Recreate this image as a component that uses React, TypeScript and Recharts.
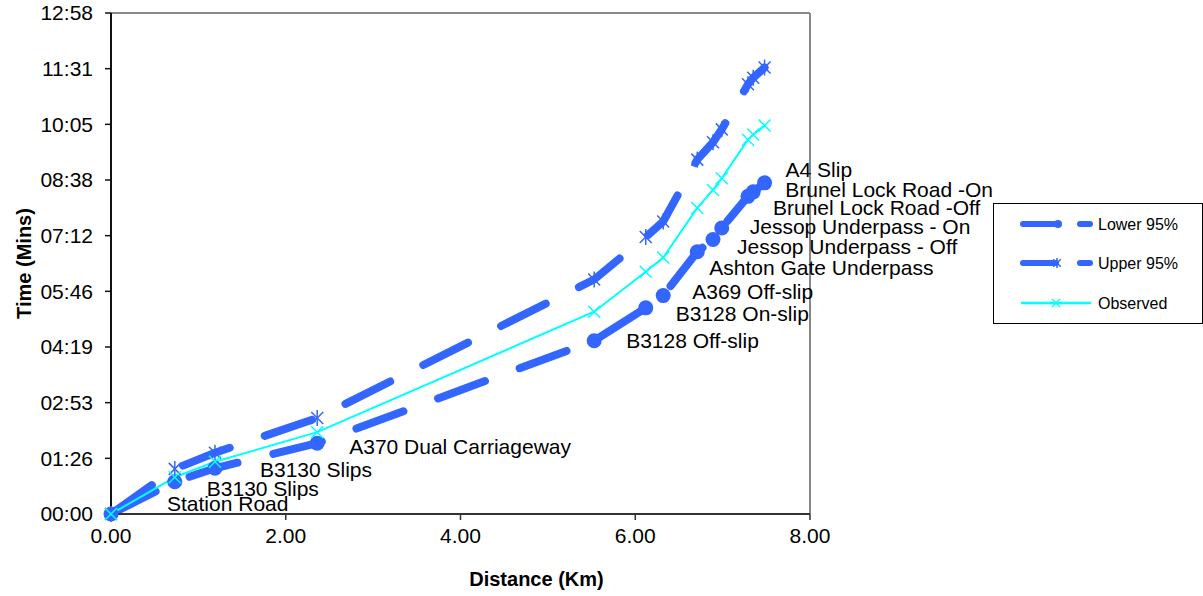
import React from "react";
import { LineChart, Line, XAxis, YAxis, LabelList, ReferenceLine, Legend, Label } from "recharts";

// junction names along the route
const locations = [
  "Station Road",
  "B3130 Slips",
  "B3130 Slips",
  "A370 Dual Carriageway",
  "B3128 Off-slip",
  "B3128 On-slip",
  "A369 Off-slip",
  "Ashton Gate Underpass",
  "Jessop Underpass - Off",
  "Jessop Underpass - On",
  "Brunel Lock Road -Off",
  "Brunel Lock Road -On",
  "A4 Slip",
];

// cumulative distance (km)
const distanceKm = [0, 0.73, 1.19, 2.36, 5.53, 6.12, 6.32, 6.71, 6.89, 6.99, 7.29, 7.35, 7.48];

// cumulative time in seconds
const lowerSec = [0, 50, 71, 110, 269, 320, 339, 407, 426, 444, 493, 500, 514];
const upperSec = [0, 70, 95, 149, 364, 430, 454, 550, 577, 597, 667, 677, 693];
const observedSec = [0, 57, 81, 127, 314, 376, 398, 475, 503, 521, 581, 589, 603];

const xTicks = [0, 2, 4, 6, 8];
const yTicksSec = [0, 86.4, 172.8, 259.2, 345.6, 432, 518.4, 604.8, 691.2, 777.6];

// label nudges (px) relative to each lower-bound point
const labelNudge = [
  [56, -10], [32, 7], [45, 2], [32, 4], [32, 0], [30, 6], [29, -4],
  [12, 16], [24, 7], [28, -1], [25, 12], [32, -2], [21, -13],
];

const BLUE = "#3366FF";
const CYAN = "#00FFFF";
const FONT = "'Liberation Sans', Arial, sans-serif";

const data = distanceKm.map((d, i) => ({
  x: d,
  location: locations[i],
  lower: lowerSec[i],
  upper: upperSec[i],
  observed: observedSec[i],
}));

const fmtTime = (v: number) => {
  const s = Math.round(v);
  const m = Math.floor(s / 60);
  const r = s % 60;
  return `${String(m).padStart(2, "0")}:${String(r).padStart(2, "0")}`;
};

const Star = ({ cx, cy, r = 8, w = 1.5 }: any) => {
  if (cx == null || cy == null) return null;
  const d = r * 0.75;
  return (
    <g stroke={BLUE} strokeWidth={w}>
      <line x1={cx - d} y1={cy - d} x2={cx + d} y2={cy + d} />
      <line x1={cx - d} y1={cy + d} x2={cx + d} y2={cy - d} />
      <line x1={cx} y1={cy - r} x2={cx} y2={cy + r} />
    </g>
  );
};

const Cross = ({ cx, cy, r = 6, w = 1.5 }: any) => {
  if (cx == null || cy == null) return null;
  return (
    <g stroke={CYAN} strokeWidth={w}>
      <line x1={cx - r} y1={cy - r} x2={cx + r} y2={cy + r} />
      <line x1={cx - r} y1={cy + r} x2={cx + r} y2={cy - r} />
    </g>
  );
};

const renderLabel = (props: any) => {
  const { x, y, value, index } = props;
  const [dx, dy] = labelNudge[index] || [20, 0];
  return (
    <text x={x + dx} y={y + dy + 7} fontSize={21} fontFamily={FONT} fill="#000" textAnchor="start">
      {value}
    </text>
  );
};

const LegendBox = () => (
  <div style={{ width: 208, height: 119, border: "1px solid #000", background: "#fff", boxSizing: "content-box" }}>
    <svg width={208} height={119}>
      <g fontFamily={FONT} fontSize={16} fill="#000">
        <line x1={29} y1={20} x2={62} y2={20} stroke={BLUE} strokeWidth={6} strokeLinecap="round" />
        <circle cx={64} cy={20} r={4} fill={BLUE} />
        <line x1={86} y1={20} x2={96} y2={20} stroke={BLUE} strokeWidth={6} strokeLinecap="round" />
        <text x={104} y={26}>Lower 95%</text>

        <line x1={29} y1={59} x2={62} y2={59} stroke={BLUE} strokeWidth={6} strokeLinecap="round" />
        <Star cx={63} cy={59} r={5} w={1.5} />
        <line x1={86} y1={59} x2={96} y2={59} stroke={BLUE} strokeWidth={6} strokeLinecap="round" />
        <text x={104} y={65}>Upper 95%</text>

        <line x1={27} y1={99} x2={97} y2={99} stroke={CYAN} strokeWidth={2.5} />
        <Cross cx={62} cy={99} r={4} w={1.5} />
        <text x={104} y={105}>Observed</text>
      </g>
    </svg>
  </div>
);

export default function App() {
  return (
    <div style={{ position: "absolute", left: 0, top: 0, width: 1203, height: 596, background: "#fff" }}>
      <LineChart width={1203} height={596} data={data} margin={{ top: 13, right: 393, bottom: 0, left: 0 }}>
        <XAxis
          dataKey="x"
          type="number"
          domain={[0, 8]}
          ticks={xTicks}
          tickFormatter={(v: number) => v.toFixed(2)}
          height={82}
          tickSize={6}
          tickMargin={8}
          tick={{ fill: "#000", fontSize: 21, fontFamily: FONT }}
          axisLine={{ stroke: "#333", strokeWidth: 2 }}
          tickLine={{ stroke: "#333", strokeWidth: 1.5 }}
        >
          <Label
            content={(p: any) => {
              const vb = p.viewBox;
              return (
                <text x={vb.x + vb.width / 2 + 76} y={vb.y + 72} textAnchor="middle" fontSize={20} fontWeight="bold" fontFamily={FONT} fill="#000">
                  Distance (Km)
                </text>
              );
            }}
          />
        </XAxis>
        <YAxis
          type="number"
          domain={[0, 777.6]}
          ticks={yTicksSec}
          tickFormatter={fmtTime}
          width={111}
          tickSize={6}
          tickMargin={12}
          tick={{ fill: "#000", fontSize: 21, fontFamily: FONT }}
          axisLine={{ stroke: "#111", strokeWidth: 2 }}
          tickLine={{ stroke: "#111", strokeWidth: 1.5 }}
        >
          <Label
            content={(p: any) => {
              const vb = p.viewBox;
              const cx = vb.x + 24;
              const cy = vb.y + vb.height / 2;
              return (
                <text x={cx} y={cy} transform={`rotate(-90 ${cx} ${cy})`} textAnchor="middle" dominantBaseline="central" fontSize={20} fontWeight="bold" fontFamily={FONT} fill="#000">
                  Time (Mins)
                </text>
              );
            }}
          />
        </YAxis>
        <ReferenceLine y={777.6} stroke="#888" strokeWidth={2} />
        <ReferenceLine x={8} stroke="#888" strokeWidth={2} />
        <Legend
          verticalAlign="middle"
          align="center"
          layout="horizontal"
          content={() => <LegendBox />}
          wrapperStyle={{ left: 993, top: 203, width: 210, height: 121 }}
        />
        <Line
          dataKey="lower"
          name="Lower 95%"
          stroke={BLUE}
          strokeWidth={8}
          strokeLinecap="round"
          strokeDasharray="50 37"
          dot={{ r: 7.5, fill: BLUE, stroke: BLUE, strokeWidth: 0, strokeDasharray: "" }}
          isAnimationActive={false}
        >
          <LabelList dataKey="location" content={renderLabel} />
        </Line>
        <Line
          dataKey="upper"
          name="Upper 95%"
          stroke={BLUE}
          strokeWidth={8}
          strokeLinecap="round"
          strokeDasharray="50 37"
          dot={(p: any) => <Star key={`u${p.index}`} cx={p.cx} cy={p.cy} />}
          isAnimationActive={false}
        />
        <Line
          dataKey="observed"
          name="Observed"
          stroke={CYAN}
          strokeWidth={2}
          dot={(p: any) => <Cross key={`o${p.index}`} cx={p.cx} cy={p.cy} />}
          isAnimationActive={false}
        />
      </LineChart>
    </div>
  );
}
